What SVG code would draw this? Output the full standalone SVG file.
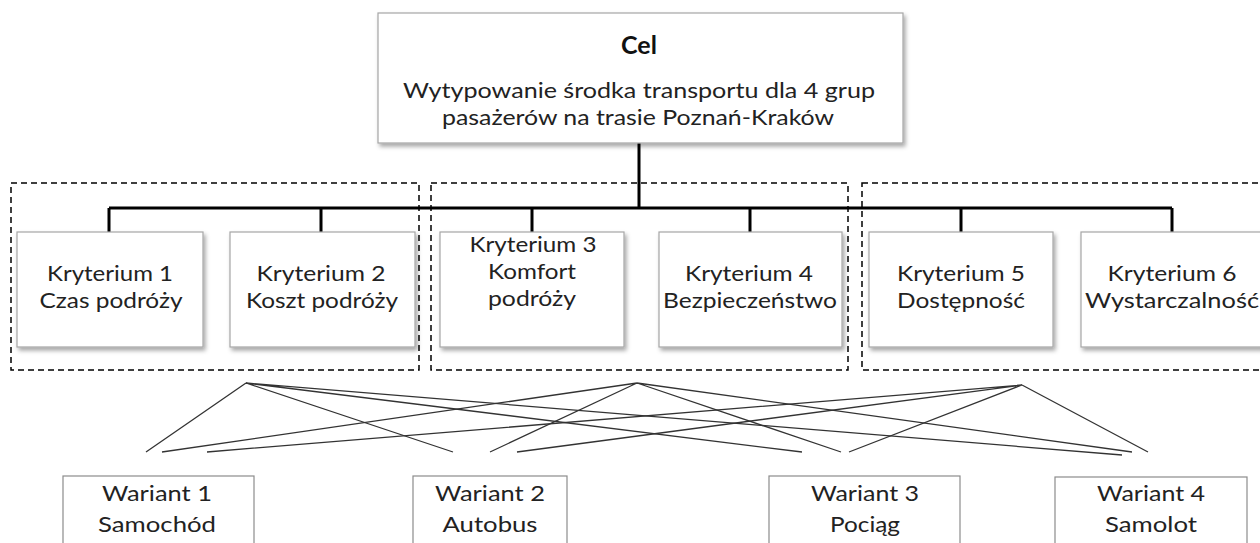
<svg xmlns="http://www.w3.org/2000/svg" width="1260" height="543" viewBox="0 0 1260 543">
  <style>
    .t { font-family: Lato, "Open Sans", "Liberation Sans", sans-serif; font-size: 22px; fill: #222; text-anchor: middle; }
    .b { font-weight: bold; font-size: 25px; fill: #111; }
    .box { fill: #fff; stroke: #a6a6a6; stroke-width: 1.2; filter: url(#shadow); }
    .var { fill: #fff; stroke: #8c8c8c; stroke-width: 1.2; }
    .grp { fill: none; stroke: #000; stroke-width: 1.5; stroke-dasharray: 6 4; }
    .tree { fill: none; stroke: #000; stroke-width: 3; }
    .fan { fill: none; stroke: #333; stroke-width: 1.3; }
  </style>
  <defs>
    <filter id="shadow" x="-10%" y="-10%" width="130%" height="140%">
      <feDropShadow dx="2" dy="3" stdDeviation="2" flood-color="#000" flood-opacity="0.35"/>
    </filter>
  </defs>

  <rect width="1260" height="543" fill="#fff"/>

  <!-- criterion groups (dashed frames) -->
  <g id="groups">
    <rect class="grp" x="11" y="183" width="408" height="187"/>
    <rect class="grp" x="431" y="183" width="417" height="187"/>
    <rect class="grp" x="862" y="183" width="420" height="187"/>
  </g>

  <!-- connectors -->
  <g id="connectors">
    <path class="tree" d="M639,143 V208 M109,208 H1172 M109,208 V232 M321,208 V232 M532,208 V232 M750,208 V232 M961,208 V232 M1172,208 V232"/>
    <g class="fan">
      <!-- apex under group 1 -->
      <path d="M246,383 L146,452 M246,383 L453,452 M246,383 L802,452 M246,383 L1122,455"/>
      <!-- apex under group 2 -->
      <path d="M637,383 L162,452 M637,383 L490,452 M637,383 L841,452 M637,383 L1132,452"/>
      <!-- apex under group 3 -->
      <path d="M1022,385 L207,452 M1022,385 L517,452 M1022,385 L849,452 M1022,385 L1148,452"/>
    </g>
  </g>

  <!-- goal -->
  <g id="cel">
    <rect class="box" x="378" y="13" width="525" height="130"/>
    <text class="t b" x="639" y="54">Cel</text>
    <text class="t" x="639" y="98" textLength="472" lengthAdjust="spacingAndGlyphs">Wytypowanie środka transportu dla 4 grup</text>
    <text class="t" x="638" y="125" textLength="392" lengthAdjust="spacingAndGlyphs">pasażerów na trasie Poznań-Kraków</text>
  </g>

  <!-- criteria -->
  <g id="kryterium1">
    <rect class="box" x="17" y="232" width="186" height="115"/>
    <text class="t" x="110" y="281" textLength="126" lengthAdjust="spacingAndGlyphs">Kryterium 1</text>
    <text class="t" x="111" y="308" textLength="143" lengthAdjust="spacingAndGlyphs">Czas podróży</text>
  </g>
  <g id="kryterium2">
    <rect class="box" x="230" y="232" width="185" height="115"/>
    <text class="t" x="321" y="281" textLength="129" lengthAdjust="spacingAndGlyphs">Kryterium 2</text>
    <text class="t" x="322" y="308" textLength="152" lengthAdjust="spacingAndGlyphs">Koszt podróży</text>
  </g>
  <g id="kryterium3">
    <rect class="box" x="440" y="232" width="184" height="115"/>
    <text class="t" x="533" y="252" textLength="127" lengthAdjust="spacingAndGlyphs">Kryterium 3</text>
    <text class="t" x="532" y="279" textLength="88" lengthAdjust="spacingAndGlyphs">Komfort</text>
    <text class="t" x="532" y="306" textLength="88" lengthAdjust="spacingAndGlyphs">podróży</text>
  </g>
  <g id="kryterium4">
    <rect class="box" x="659" y="232" width="183" height="115"/>
    <text class="t" x="749" y="281" textLength="128" lengthAdjust="spacingAndGlyphs">Kryterium 4</text>
    <text class="t" x="750" y="308" textLength="174" lengthAdjust="spacingAndGlyphs">Bezpieczeństwo</text>
  </g>
  <g id="kryterium5">
    <rect class="box" x="869" y="232" width="184" height="115"/>
    <text class="t" x="961" y="281" textLength="128" lengthAdjust="spacingAndGlyphs">Kryterium 5</text>
    <text class="t" x="961" y="308" textLength="128" lengthAdjust="spacingAndGlyphs">Dostępność</text>
  </g>
  <g id="kryterium6">
    <rect class="box" x="1081" y="232" width="186" height="115"/>
    <text class="t" x="1172" y="281" textLength="129" lengthAdjust="spacingAndGlyphs">Kryterium 6</text>
    <text class="t" x="1172" y="308" textLength="174" lengthAdjust="spacingAndGlyphs">Wystarczalność</text>
  </g>

  <!-- variants -->
  <g id="wariant1">
    <rect class="var" x="63" y="476" width="191" height="80"/>
    <text class="t" x="157" y="501" textLength="110" lengthAdjust="spacingAndGlyphs">Wariant 1</text>
    <text class="t" x="157" y="532" textLength="118" lengthAdjust="spacingAndGlyphs">Samochód</text>
  </g>
  <g id="wariant2">
    <rect class="var" x="413" y="476" width="154" height="80"/>
    <text class="t" x="490" y="501" textLength="110" lengthAdjust="spacingAndGlyphs">Wariant 2</text>
    <text class="t" x="490" y="532" textLength="95" lengthAdjust="spacingAndGlyphs">Autobus</text>
  </g>
  <g id="wariant3">
    <rect class="var" x="769" y="476" width="191" height="80"/>
    <text class="t" x="865" y="501" textLength="108" lengthAdjust="spacingAndGlyphs">Wariant 3</text>
    <text class="t" x="865" y="532" textLength="70" lengthAdjust="spacingAndGlyphs">Pociąg</text>
  </g>
  <g id="wariant4">
    <rect class="var" x="1055" y="477" width="192" height="80"/>
    <text class="t" x="1151" y="501" textLength="108" lengthAdjust="spacingAndGlyphs">Wariant 4</text>
    <text class="t" x="1151" y="532" textLength="92" lengthAdjust="spacingAndGlyphs">Samolot</text>
  </g>
</svg>
